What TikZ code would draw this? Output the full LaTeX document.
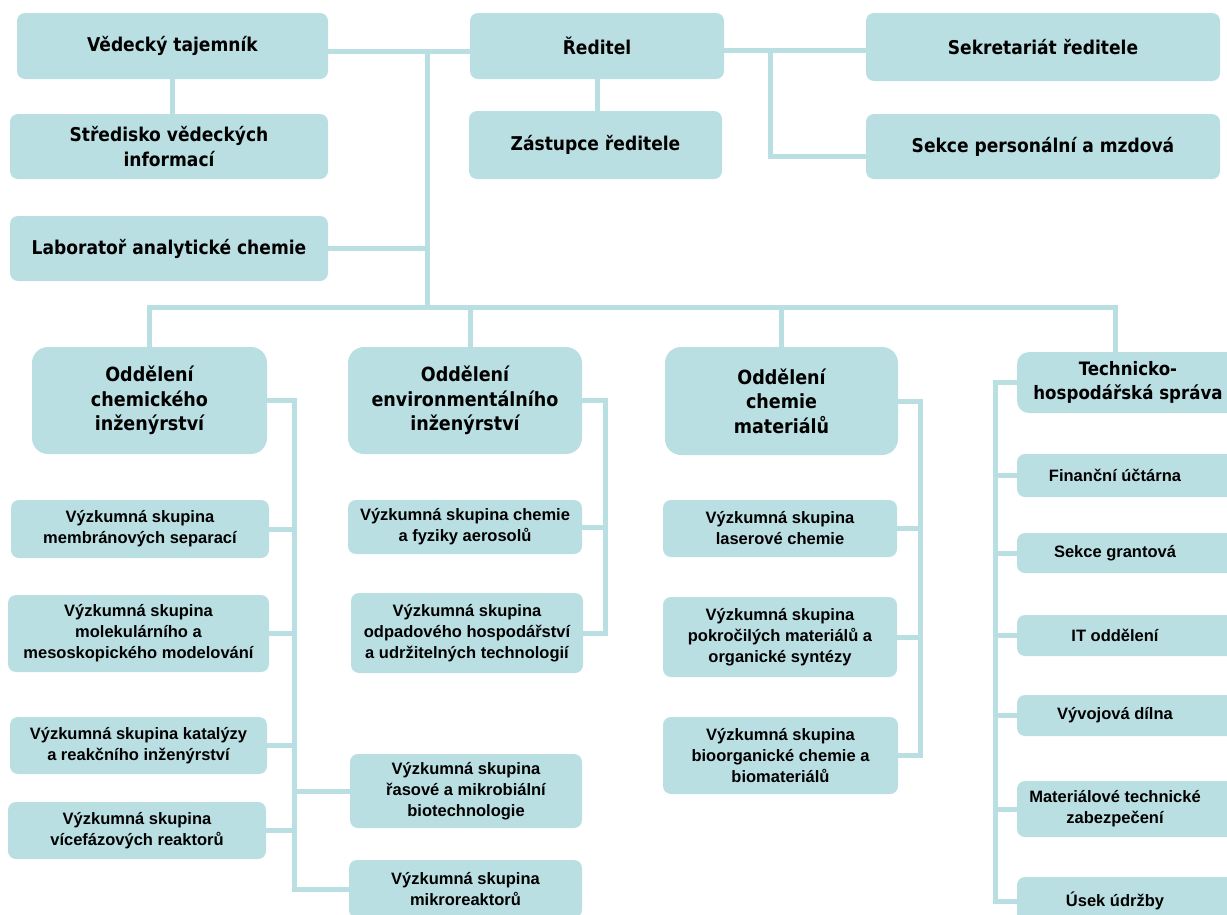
\documentclass[tikz,border=0pt]{standalone}
\usepackage{fontspec}
\setmainfont{Liberation Sans}
\newfontfamily\bigfont{DejaVu Sans Condensed}
\definecolor{boxc}{RGB}{186,223,227}
\tikzset{
  box/.style={fill=boxc, draw=none, rounded corners=8pt, inner sep=2pt, align=center, text=black},
  big/.style={box, font=\bigfont\bfseries\fontsize{19}{24.5}\selectfont},
  dept/.style={box, rounded corners=16pt, font=\bigfont\bfseries\fontsize{19.5}{24.5}\selectfont},
  small/.style={box, font=\bfseries\fontsize{16.5}{21}\selectfont},
  lbl/.style={font=\bfseries\fontsize{16.5}{21}\selectfont, align=center, inner sep=0pt, xshift=-16pt},
  conn/.style={draw=boxc, line width=5pt},
}
\begin{document}
\begin{tikzpicture}[x=1pt,y=-1pt]
\useasboundingbox (0,0) rectangle (1227,914);
\clip (0,0) rectangle (1227,914);

% top level
\node[big, minimum width=311, minimum height=66] (vt) at (172.5,46) {Vědecký tajemník};
\node[big, minimum width=318, minimum height=65] (st) at (169,146.5) {Středisko vědeckých\\informací};
\node[big, minimum width=318, minimum height=65] (lab) at (169,248.5) {Laboratoř analytické chemie};
\node[big, minimum width=254, minimum height=66] (red) at (597,46) {Ředitel};
\node[big, minimum width=253, minimum height=68] (zast) at (595.5,145) {Zástupce ředitele};
\node[big, minimum width=354, minimum height=68] (sek) at (1043,47) {Sekretariát ředitele};
\node[big, minimum width=354, minimum height=65] (pers) at (1043,146.5) {Sekce personální a mzdová};

% departments
\node[dept, minimum width=235, minimum height=107] (d1) at (149.5,400.5) {Oddělení\\chemického\\inženýrství};
\node[dept, minimum width=234, minimum height=107] (d2) at (465,400.5) {Oddělení\\environmentálního\\inženýrství};
\node[dept, minimum width=233, minimum height=108] (d3) at (781.5,401) {Oddělení\\chemie\\materiálů};
\node[dept, rounded corners=12pt, minimum width=222, minimum height=61, font=\bigfont\bfseries\fontsize{18.5}{24}\selectfont] (d4) at (1128,382.5) {Technicko-\\hospodářská správa};

% groups of department 1
\node[small, minimum width=258, minimum height=58] (c11) at (140,529) {Výzkumná skupina\\membránových separací};
\node[small, minimum width=261, minimum height=77] (c12) at (138.5,633.5) {Výzkumná skupina\\molekulárního a\\mesoskopického modelování};
\node[small, minimum width=257, minimum height=57] (c13) at (138.5,745.5) {Výzkumná skupina katalýzy\\a reakčního inženýrství};
\node[small, minimum width=258, minimum height=57] (c14) at (137,830.5) {Výzkumná skupina\\vícefázových reaktorů};
\node[small, minimum width=232, minimum height=74] (c15) at (466,791) {Výzkumná skupina\\řasové a mikrobiální\\biotechnologie};
\node[small, minimum width=233, minimum height=58] (c16) at (465.5,889) {Výzkumná skupina\\mikroreaktorů};

% groups of department 2
\node[small, minimum width=234, minimum height=54] (c21) at (465,527) {Výzkumná skupina chemie\\a fyziky aerosolů};
\node[small, minimum width=232, minimum height=80] (c22) at (467,633) {Výzkumná skupina\\odpadového hospodářství\\a udržitelných technologií};

% groups of department 3
\node[small, minimum width=234, minimum height=57] (c31) at (780,528.5) {Výzkumná skupina\\laserové chemie};
\node[small, minimum width=234, minimum height=80] (c32) at (780,637) {Výzkumná skupina\\pokročilých materiálů a\\organické syntézy};
\node[small, minimum width=235, minimum height=77] (c33) at (780.5,755.5) {Výzkumná skupina\\bioorganické chemie a\\biomateriálů};

% technical-economic administration
\node[small, minimum width=228, minimum height=43, label={[lbl]center:Finanční účtárna}] (c41) at (1131,475.5) {};
\node[small, minimum width=228, minimum height=40, label={[lbl]center:Sekce grantová}] (c42) at (1131,553) {};
\node[small, minimum width=228, minimum height=41, label={[lbl]center:IT oddělení}] (c43) at (1131,635.5) {};
\node[small, minimum width=228, minimum height=41, label={[lbl]center:Vývojová dílna}] (c44) at (1131,715.5) {};
\node[small, minimum width=228, minimum height=56, label={[lbl]center:Materiálové technické\\zabezpečení}] (c45) at (1131,809) {};
\node[small, minimum width=228, minimum height=48, label={[lbl]center:Úsek údržby}] (c46) at (1131,901) {};

% junction coordinates
\coordinate (j1) at (427,51);
\coordinate (b0) at (427,307);
\coordinate (j2) at (770,50);
\coordinate (j3) at (770,156);
\coordinate (p1) at (149,307);
\coordinate (p2) at (470,307);
\coordinate (p3) at (781,307);
\coordinate (p4) at (1115,307);
\coordinate (t1) at (294,400);
\coordinate (t2) at (605,400);
\coordinate (t3) at (920,400);
\coordinate (t4) at (995,400);

% top connectors
\draw[conn] (vt.east |- j1) -- (red.west |- j1);
\draw[conn] (j1) -- (b0);
\draw[conn] (lab.east) -- (lab.east -| j1);
\draw[conn] (vt.south) -- (vt.south |- st.north);
\draw[conn] (red.south) -- (red.south |- zast.north);
\draw[conn] (red.east |- j2) -- (sek.west |- j2);
\draw[conn] (j2) -- (j3) -- (pers.west |- j3);

% bus to departments
\draw[conn] (p1 |- d1.north) -- (p1) -- (p4) -- (p4 |- d4.north);
\draw[conn] (p2) -- (p2 |- d2.north);
\draw[conn] (p3) -- (p3 |- d3.north);

% department 1
\draw[conn] (d1.east) -- (d1.east -| t1) -- (t1 |- c16.west) -- (c16.west);
\draw[conn] (c11.east) -- (c11.east -| t1);
\draw[conn] (c12.east) -- (c12.east -| t1);
\draw[conn] (c13.east) -- (c13.east -| t1);
\draw[conn] (c14.east) -- (c14.east -| t1);
\draw[conn] (t1 |- c15.west) -- (c15.west);

% department 2
\draw[conn] (d2.east) -- (d2.east -| t2) -- (t2 |- c22.east) -- (c22.east);
\draw[conn] (c21.east) -- (c21.east -| t2);

% department 3
\draw[conn] (d3.east) -- (d3.east -| t3) -- (t3 |- c33.east) -- (c33.east);
\draw[conn] (c31.east) -- (c31.east -| t3);
\draw[conn] (c32.east) -- (c32.east -| t3);

% department 4
\draw[conn] (d4.west) -- (d4.west -| t4) -- (t4 |- c46.west) -- (c46.west);
\draw[conn] (t4 |- c41.west) -- (c41.west);
\draw[conn] (t4 |- c42.west) -- (c42.west);
\draw[conn] (t4 |- c43.west) -- (c43.west);
\draw[conn] (t4 |- c44.west) -- (c44.west);
\draw[conn] (t4 |- c45.west) -- (c45.west);
\end{tikzpicture}
\end{document}
